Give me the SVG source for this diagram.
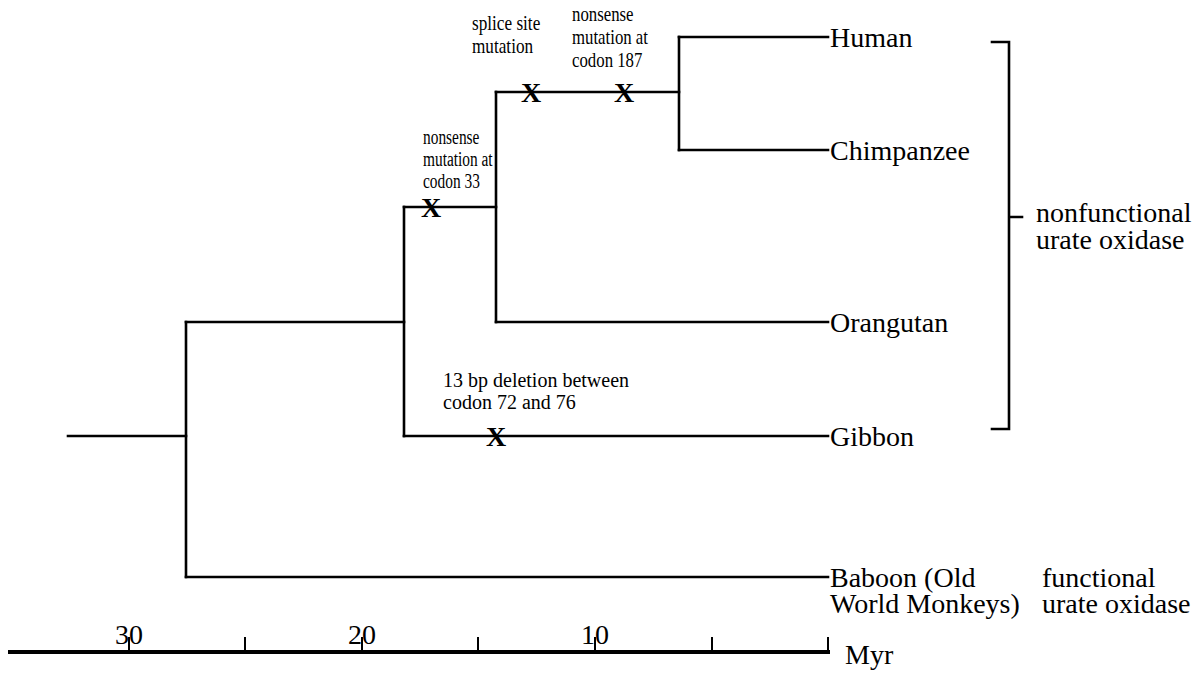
<svg xmlns="http://www.w3.org/2000/svg" width="1199" height="673" viewBox="0 0 1199 673">
  <style>
    .br { fill: none; stroke: #000; stroke-width: 2.6; stroke-linecap: square; }
    .lbl { font-family: "Liberation Serif", "Times New Roman", serif; font-size: 28px; fill: #000; }
    .note { font-family: "Liberation Serif", "Times New Roman", serif; font-size: 20px; fill: #000; }
    .mut { font-family: "Liberation Serif", "Times New Roman", serif; font-size: 28px; font-weight: bold; fill: #000; text-anchor: middle; }
    .ax { font-family: "Liberation Serif", "Times New Roman", serif; font-size: 28px; fill: #000; }
  </style>
  <rect width="1199" height="673" fill="#fff"/>

  <!-- branches of the tree -->
  <g id="connectors">
    <path class="br" d="M68 436 H186"/>
    <path class="br" d="M186 322 V577"/>
    <path class="br" d="M186 322 H404"/>
    <path class="br" d="M186 577 H828"/>
    <path class="br" d="M404 207 V436"/>
    <path class="br" d="M404 436 H828"/>
    <path class="br" d="M404 207 H496"/>
    <path class="br" d="M496 92 V322"/>
    <path class="br" d="M496 322 H828"/>
    <path class="br" d="M496 92 H679"/>
    <path class="br" d="M679 37 V150"/>
    <path class="br" d="M679 37 H828"/>
    <path class="br" d="M679 150 H828"/>
  </g>

  <!-- mutation marks on branches -->
  <g id="mutations">
    <text class="mut" x="531" y="102">X</text>
    <text class="mut" x="624" y="102">X</text>
    <text class="mut" x="431" y="217">X</text>
    <text class="mut" x="496" y="446">X</text>
  </g>

  <!-- narrow annotation blocks -->
  <g id="note-splice" transform="translate(472 0) scale(0.86 1)">
    <text class="note" x="0" y="30">splice site</text>
    <text class="note" x="0" y="53">mutation</text>
  </g>
  <g id="note-187" transform="translate(572 0) scale(0.84 1)">
    <text class="note" x="0" y="21">nonsense</text>
    <text class="note" x="0" y="44">mutation at</text>
    <text class="note" x="0" y="67">codon 187</text>
  </g>
  <g id="note-33" transform="translate(423 0) scale(0.77 1)">
    <text class="note" x="0" y="144">nonsense</text>
    <text class="note" x="0" y="166">mutation at</text>
    <text class="note" x="0" y="188">codon 33</text>
  </g>
  <g id="note-deletion">
    <text class="note" x="443" y="387">13 bp deletion between</text>
    <text class="note" x="443" y="409">codon 72 and 76</text>
  </g>

  <!-- taxa -->
  <g id="human"><text class="lbl" x="830" y="47">Human</text></g>
  <g id="chimpanzee"><text class="lbl" x="830" y="160">Chimpanzee</text></g>
  <g id="orangutan"><text class="lbl" x="830" y="332">Orangutan</text></g>
  <g id="gibbon"><text class="lbl" x="830" y="446">Gibbon</text></g>
  <g id="baboon">
    <text class="lbl" x="830" y="587">Baboon (Old</text>
    <text class="lbl" x="830" y="613">World Monkeys)</text>
  </g>

  <!-- grouping bracket -->
  <g id="nonfunctional">
    <path class="br" d="M992 42 H1009 V429 H992 M1009 217 H1022"/>
    <text class="lbl" x="1036" y="222">nonfunctional</text>
    <text class="lbl" x="1036" y="249">urate oxidase</text>
  </g>
  <g id="functional">
    <text class="lbl" x="1042" y="587">functional</text>
    <text class="lbl" x="1042" y="613">urate oxidase</text>
  </g>

  <!-- time axis -->
  <g id="axis">
    <path d="M8 652 H830" stroke="#000" stroke-width="4" fill="none"/>
    <path d="M129 637 V652 M245 637 V652 M362 637 V652 M478 637 V652 M595 637 V652 M712 637 V652 M828 637 V652" stroke="#000" stroke-width="2" fill="none"/>
    <text class="ax" x="129" y="644" text-anchor="middle">30</text>
    <text class="ax" x="362" y="644" text-anchor="middle">20</text>
    <text class="ax" x="595" y="644" text-anchor="middle">10</text>
    <text class="ax" x="845" y="664">Myr</text>
  </g>
</svg>
